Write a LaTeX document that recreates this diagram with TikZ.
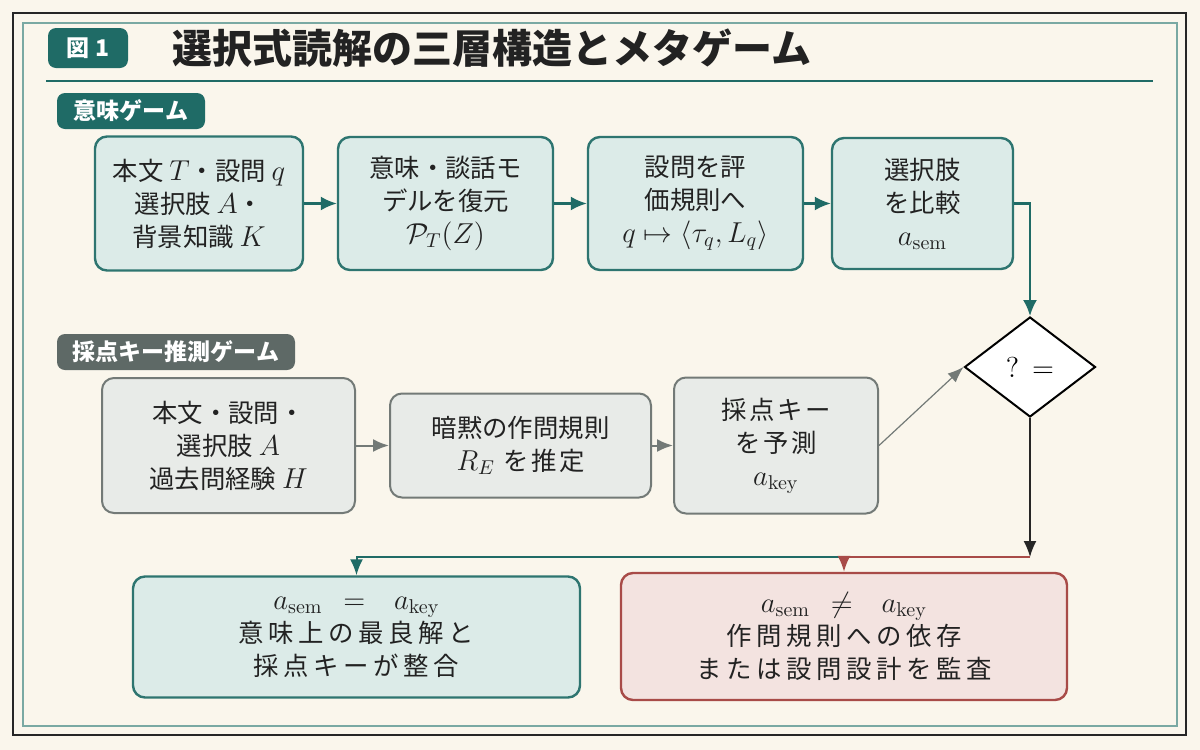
\documentclass[tikz,border=0pt]{standalone}
\usepackage[no-math]{fontspec}
\setmainfont{Noto Sans CJK JP}
\newfontfamily\jpsp{Noto Sans CJK JP}[LetterSpace=18]
\newfontfamily\jpspb{Noto Sans CJK JP}[LetterSpace=10]
\usetikzlibrary{arrows.meta,shapes.geometric}
\newcommand\mathbig[1]{{\fontsize{14.8}{16.5}\selectfont$#1$}}
\definecolor{bgC}{HTML}{FAF6EC}
\definecolor{tealD}{HTML}{1F6B66}
\definecolor{tealB}{HTML}{2E7570}
\definecolor{tealF}{HTML}{DCEBE8}
\definecolor{tealL}{HTML}{7AA9A3}
\definecolor{grayD}{HTML}{5E6966}
\definecolor{grayB}{HTML}{737A77}
\definecolor{grayF}{HTML}{E8EBE8}
\definecolor{redB}{HTML}{A84B48}
\definecolor{redF}{HTML}{F3E3E0}
\definecolor{inkC}{HTML}{222222}
\begin{document}
\begin{tikzpicture}[x=0.5pt,y=-0.5pt,
  boxtext/.style={align=center,inner sep=0pt,text=inkC,font=\fontsize{12.7}{16.5}\selectfont},
  tealbox/.style={boxtext,draw=tealB,fill=tealF,line width=1.2pt,rounded corners=6pt},
  graybox/.style={boxtext,draw=grayB,fill=grayF,line width=1pt,rounded corners=6pt},
  redbox/.style={boxtext,draw=redB,fill=redF,line width=1.2pt,rounded corners=6pt},
  badge/.style={rounded corners=4pt,inner sep=0pt,text=white,font=\bfseries\fontsize{11.5}{14}\selectfont},
  tarrow/.style={draw=tealD,line width=1.1pt,-{Latex[length=8pt,width=7pt]}},
  garrow/.style={draw=grayB,line width=1pt,-{Latex[length=8pt,width=6.5pt]}},
  gthin/.style={draw=grayB,line width=0.6pt,-{Latex[length=8pt,width=6pt]}},
  karrow/.style={draw=black!85,line width=0.8pt,-{Latex[length=8pt,width=6.5pt]}},
  rline/.style={draw=redB,line width=1pt,-{Latex[length=8pt,width=6.5pt]}},
  tline/.style={draw=tealD,line width=1pt,-{Latex[length=8pt,width=6.5pt]}},
]
\useasboundingbox (0,0) rectangle (1200,750);
\fill[bgC] (0,0) rectangle (1200,750);
\draw[black!85,line width=1pt] (13,13) rectangle (1186,735);
\draw[tealL,line width=0.7pt] (23,23) rectangle (1177,726);
% title
\node[badge,fill=tealD,minimum width=40pt,minimum height=20pt] (fig) at (88,48) {図 1};
\node[anchor=west,inner sep=0pt,text=inkC,font=\bfseries\fontsize{20}{24}\selectfont] (title) at (172,48) {選択式読解の三層構造とメタゲーム};
\draw[tealD,line width=0.7pt] (46,81) -- (1153,81);
% section badges
\node[badge,fill=tealD,minimum width=74pt,minimum height=18pt] (semb) at (131,111) {意味ゲーム};
\node[badge,fill=grayD,minimum width=119pt,minimum height=18pt] (keyb) at (176,352) {採点キー推測ゲーム};
% top row
\node[tealbox,minimum width=104pt,minimum height=67pt] (b1) at (199,203.5) {本文 \mathbig{T}・設問 \mathbig{q}\\選択肢 \mathbig{A}・\\背景知識 \mathbig{K}};
\node[tealbox,minimum width=107.5pt,minimum height=66.5pt] (b2) at (445.5,203.5) {意味・談話モ\\デルを復元\\\mathbig{\mathcal{P}_T(Z)}};
\node[tealbox,minimum width=107.5pt,minimum height=66.5pt] (b3) at (695.5,203.5) {設問を評\\価規則へ\\\mathbig{q\mapsto\langle\tau_q,L_q\rangle}};
\node[tealbox,minimum width=90.5pt,minimum height=65.5pt] (b4) at (922.5,203.5) {選択肢\\を比較\\\mathbig{a_{\mathrm{sem}}}};
% diamond
\node[diamond,draw=black,line width=1pt,fill=white,minimum width=65.5pt,minimum height=50pt,inner sep=0pt,font=\fontsize{15.5}{18}\selectfont] (dia) at (1030,367) {$?\,=$};
% second row
\node[graybox,minimum width=126.5pt,minimum height=67.5pt] (b5) at (228.5,445.5) {本文・設問・\\選択肢 \mathbig{A}\\過去問経験 \mathbig{H}};
\node[graybox,minimum width=130.5pt,minimum height=52pt] (b6) at (520.5,445.5) {暗黙の作問規則\\{\jpspb \mathbig{R_E} を推定}};
\node[graybox,minimum width=102pt,minimum height=68pt] (b7) at (776,445.5) {{\jpspb 採点キー}\\{\jpspb を予測}\\\mathbig{a_{\mathrm{key}}}};
% bottom row
\node[tealbox,minimum width=223.5pt,minimum height=60.5pt] (b8) at (356.5,637) {\mathbig{a_{\mathrm{sem}}\;\,=\;\;\,a_{\mathrm{key}}}\\{\jpsp 意味上の最良解と}\\{\jpsp 採点キーが整合}};
\node[redbox,minimum width=223pt,minimum height=63.5pt] (b9) at (844,636.5) {\mathbig{a_{\mathrm{sem}}\;\,\neq\;\;\,a_{\mathrm{key}}}\\{\jpsp 作問規則への依存}\\{\jpsp または設問設計を監査}};
% connectors
\draw[tarrow] (b1) -- (b2);
\draw[tarrow] (b2) -- (b3);
\draw[tarrow] (b3) -- (b4);
\draw[tarrow] (b4.east) -| (dia.north);
\draw[garrow] (b5) -- (b6);
\draw[garrow] (b6) -- (b7);
\draw[gthin] (b7.east) -- (dia.west);
\coordinate (junc) at (1030,557);
\coordinate (split) at (b9.north |- junc);
\draw[karrow] (dia.south) -- (junc);
\draw[tline] (split) -| (b8.north);
\draw[rline] (junc) -| (b9.north);
\end{tikzpicture}
\end{document}
